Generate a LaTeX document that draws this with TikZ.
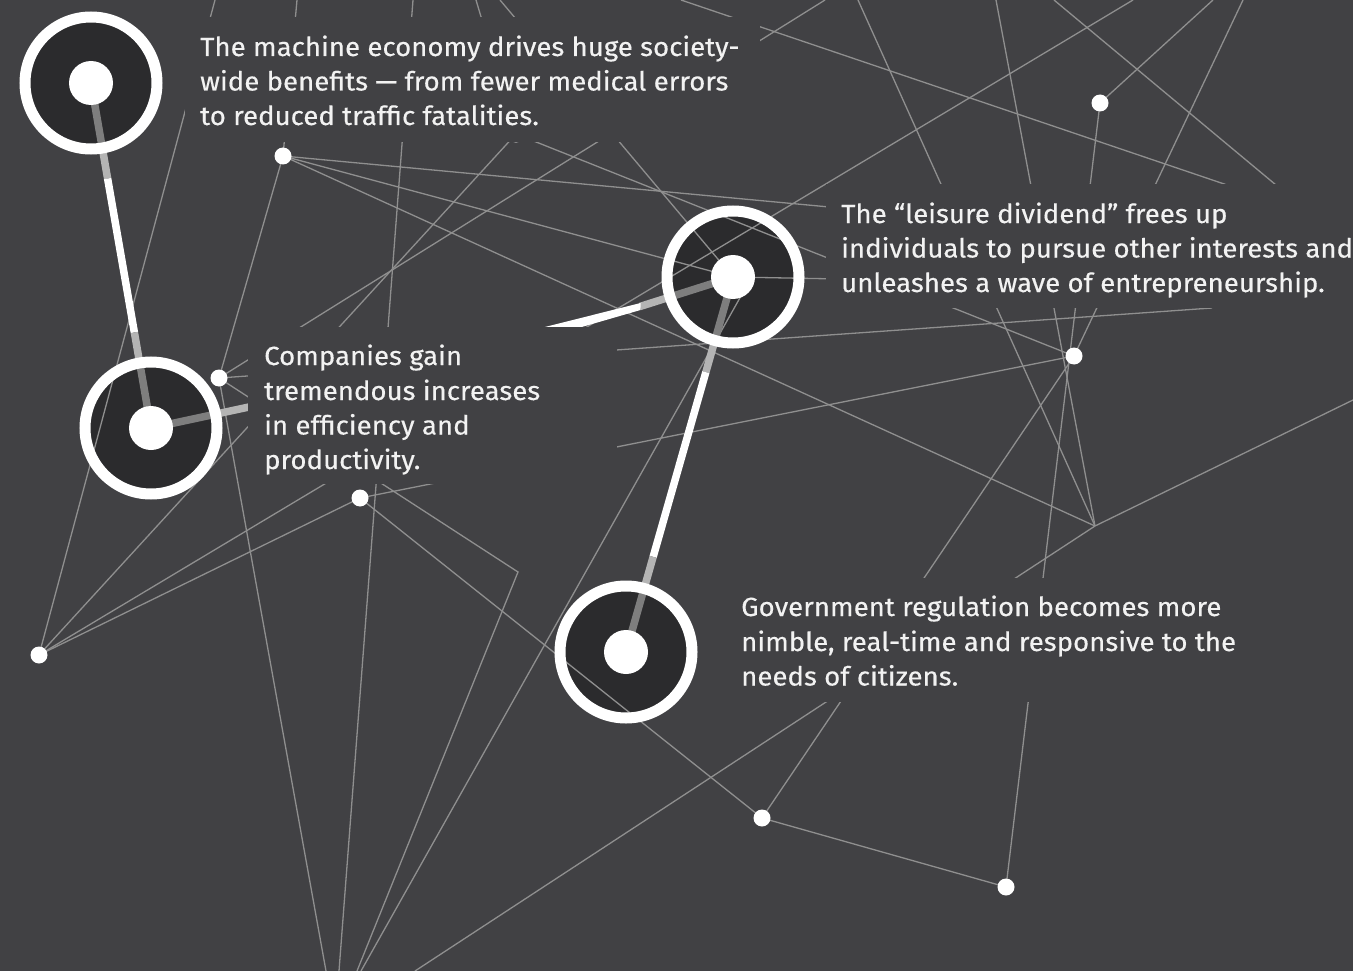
\documentclass[tikz,border=0pt]{standalone}
\usepackage{fontspec}
\setmainfont{Fira Sans}[FakeStretch=1.05,FakeBold=0.35]
\usetikzlibrary{calc}
\definecolor{bg}{HTML}{414144}
\definecolor{disk}{HTML}{2B2B2D}
\definecolor{netc}{HTML}{8F8F8F}
\definecolor{stemA}{HTML}{7E7E7E}
\definecolor{stemB}{HTML}{B4B4B4}
\definecolor{txtc}{HTML}{F2F2F2}
\begin{document}
\begin{tikzpicture}[x=1pt,y=-1pt,
  net/.style={draw=netc, line width=1.3pt},
  mask/.style={fill=bg, draw=none},
  dot/.style={circle, fill=white, inner sep=0pt, minimum size=17pt},
  hub/.style={circle, fill=white, inner sep=0pt, minimum size=44pt},
  ring/.style={draw=white, line width=11pt},
  stemw/.style={line width=7.5pt, line cap=butt},
  txt/.style={anchor=base west, inner sep=0pt, text=txtc, font=\fontsize{26.3}{34.7}\selectfont}]
\fill[bg] (0,0) rectangle (1353,971);
\useasboundingbox (0,0) rectangle (1353,971);
% hubs and dots positions
\coordinate (C1) at (91,83);
\coordinate (C2) at (733,277);
\coordinate (C3) at (151,428);
\coordinate (C4) at (626,652);
\coordinate (D1) at (283,156);
\coordinate (D2) at (1100,103);
\coordinate (D3) at (219,378);
\coordinate (D4) at (1074,356);
\coordinate (D5) at (360,498);
\coordinate (D6) at (39,655);
\coordinate (D7) at (762,818);
\coordinate (D8) at (1006,887);
\coordinate (H) at (516,134);
\coordinate (J1) at (1095,526);
\coordinate (J2) at (518,572);
\coordinate (C2b) at (750,280);
% dark disks
\foreach \c in {C1,C2,C3,C4} \fill[disk] (\c) circle[radius=66pt];
% network lines
\draw[net] (215,0) -- (D6);
\draw[net] (297,0) -- (D1);
\draw[net] (413,0) -- (339,971);
\draw[net] (476,0) -- (H);
\draw[net] (825,0) -- (D3);
\draw[net] (500,0) -- (C2);
\draw[net] (681,0) -- (1236,188);
\draw[net] (858,0) -- (J1);
\draw[net] (996,0) -- (J1);
\draw[net] (H) -- (D4);
\draw[net] (H) -- (D6);
\draw[net] (1054,0) -- (1282,190);
\draw[net] (1133,0) -- (D6);
\draw[net] (1213,0) -- (D2);
\draw[net] (D2) -- (D8);
\draw[net] (1243,0) -- (D4);
\draw[net] (D5) -- (D4);
\draw[net] (D4) -- (D7);
\draw[net] (D3) -- (1212,308);
\draw[net] (1353,400) -- (J1);
\draw[net] (J1) -- (415,971);
\draw[net] (D7) -- (D8);
\draw[net] (D5) -- (D7);
\draw[net] (D6) -- (D5);
\draw[net] (D3) -- (326,971);
\draw[net] (D3) -- (D1);
\draw[net] (D3) -- (J2) -- (357,971);
\draw[net] (C2b) -- (361,971);
\draw[net] (D1) -- (840,208);
\draw[net] (D1) -- (C2);
\draw[net] (D1) -- (J1);
\draw[net] (C2) -- (840,279);
% stems
\draw[stemw, stemA] (C1) -- ($(C1)!61pt!(C3)$);
\draw[stemw, stemB] ($(C1)!61pt!(C3)$) -- ($(C1)!97pt!(C3)$);
\draw[stemw, white] ($(C1)!97pt!(C3)$) -- ($(C3)!97pt!(C1)$);
\draw[stemw, stemB] ($(C3)!97pt!(C1)$) -- ($(C3)!61pt!(C1)$);
\draw[stemw, stemA] ($(C3)!61pt!(C1)$) -- (C3);
\draw[stemw, stemA] (C2) -- ($(C2)!61pt!(C4)$);
\draw[stemw, stemB] ($(C2)!61pt!(C4)$) -- ($(C2)!99pt!(C4)$);
\draw[stemw, white] ($(C2)!99pt!(C4)$) -- ($(C4)!99pt!(C2)$);
\draw[stemw, stemB] ($(C4)!99pt!(C2)$) -- ($(C4)!61pt!(C2)$);
\draw[stemw, stemA] ($(C4)!61pt!(C2)$) -- (C4);
\coordinate (S3) at (249,407);
\draw[stemw, stemA] (C3) -- ($(C3)!61pt!(S3)$);
\draw[stemw, stemB] ($(C3)!61pt!(S3)$) -- (S3);
\coordinate (S2) at (640,306.5);
\draw[stemw, stemA] (C2) -- ($(C2)!61pt!(S2)$);
\draw[stemw, stemB] ($(C2)!61pt!(S2)$) -- (S2);
\fill[white] (640.5,303) -- (543,327.5) -- (580,327.5) -- (640.5,310) -- cycle;
% hidden dot under the first text block
\node[dot] (dh) at (H) {};
% masks behind text
\fill[mask] (185,17) rectangle (760,142);
\fill[mask] (826,184) rectangle (1353,308);
\fill[mask] (248,327) rectangle (617,484);
\fill[mask] (700,578) rectangle (1240,702);
% rings and hub centres
\foreach \c in {C1,C2,C3,C4} \draw[ring] (\c) circle[radius=66pt];
\node[hub] (h1) at (C1) {};
\node[hub] (h2) at (C2) {};
\node[hub] (h3) at (C3) {};
\node[hub] (h4) at (C4) {};
% small dots
\node[dot] (d1) at (D1) {};
\node[dot] (d2) at (D2) {};
\node[dot] (d3) at (D3) {};
\node[dot] (d4) at (D4) {};
\node[dot] (d5) at (D5) {};
\node[dot] (d6) at (D6) {};
\node[dot] (d7) at (D7) {};
\node[dot] (d8) at (D8) {};
% texts
\node[txt] (t1a) at (200,56) {The machine economy drives huge society-};
\node[txt] (t1b) at (200,90.5) {wide benefits — from fewer medical errors};
\node[txt] (t1c) at (200,125) {to reduced traffic fatalities.};
\node[txt] (t2a) at (841,223) {The “leisure dividend” frees up};
\node[txt] (t2b) at (841,257.5) {individuals to pursue other interests and};
\node[txt] (t2c) at (841,292) {unleashes a wave of entrepreneurship.};
\node[txt] (t3a) at (264,365) {Companies gain};
\node[txt] (t3b) at (264,400) {tremendous increases};
\node[txt] (t3c) at (264,434.5) {in efficiency and};
\node[txt] (t3d) at (264,469) {productivity.};
\node[txt] (t4a) at (741,616) {Government regulation becomes more};
\node[txt] (t4b) at (741,651) {nimble, real-time and responsive to the};
\node[txt] (t4c) at (741,685.5) {needs of citizens.};
\end{tikzpicture}
\end{document}
